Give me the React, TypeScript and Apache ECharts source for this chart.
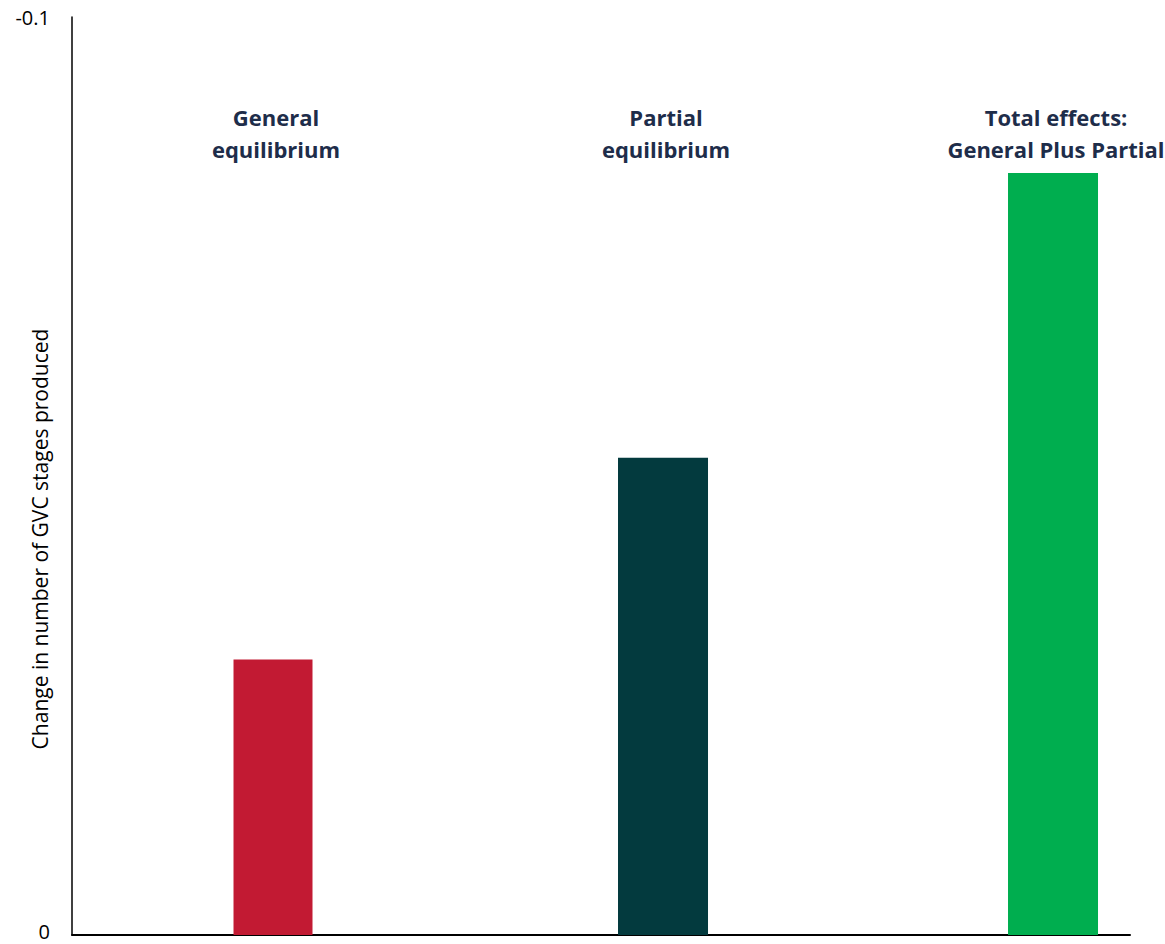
import React, { useEffect, useRef } from "react";
import * as echarts from "echarts";

const categories = ["General\nequilibrium", "Partial\nequilibrium", "Total effects:\nGeneral Plus Partial"];
const positions = [1, 2, 3];
const values = [-0.030, -0.052, -0.083];
const barColors = ["#C21A33", "#033A3E", "#00AE4F"];
const barWidths = [79, 90, 90];
const yTicks = [-0.1, 0];
const yAxisTitle = "Change in number of GVC stages produced";

const X_MIN = 0.4846;
const X_MAX = 3.1974;
const FONT = "'Open Sans', 'Noto Sans', sans-serif";

export default function App() {
  const ref = useRef<HTMLDivElement>(null);
  useEffect(() => {
    if (!ref.current) return;
    const chart = echarts.init(ref.current, null, { renderer: "svg" });
    const xAxes = positions.map((_, i) => ({
      type: "value",
      min: X_MIN,
      max: X_MAX,
      show: i === 0,
      position: "bottom",
      axisLine: { show: true, onZero: false, lineStyle: { color: "#000", width: 2 } },
      axisTick: { show: false },
      axisLabel: { show: false },
      splitLine: { show: false },
    }));
    const series = positions.map((p, i) => ({
      type: "bar",
      xAxisIndex: i,
      yAxisIndex: 0,
      barWidth: barWidths[i],
      data: [[p, values[i]]],
      itemStyle: { color: barColors[i] },
    }));
    chart.setOption({
      animation: false,
      grid: { left: 72, right: 35, top: 17, bottom: 9, containLabel: false, outerBoundsMode: "none" },
      xAxis: xAxes,
      yAxis: {
        type: "value",
        inverse: true,
        min: yTicks[0],
        max: yTicks[yTicks.length - 1],
        interval: 0.1,
        axisLine: { show: true, lineStyle: { color: "#000", width: 1.5 } },
        axisTick: { show: false },
        splitLine: { show: false },
        axisLabel: {
          margin: 22,
          fontSize: 20,
          lineHeight: 18,
          color: "#000",
          fontFamily: FONT,
          formatter: (v: number) => (Math.abs(v) < 1e-9 ? "{z|0}" : String(v)),
          rich: {
            z: { fontSize: 20, lineHeight: 18, fontFamily: FONT, color: "#000", padding: [0, 0, 8, 0] },
          },
        },
      },
      series,
    });
    const texts: any[] = categories.map((c, i) => {
      const px = chart.convertToPixel({ xAxisIndex: i }, positions[i]) as number;
      return {
        type: "text",
        x: px + 3,
        y: 133,
        style: {
          text: c,
          align: "center",
          verticalAlign: "middle",
          font: `bold 22px ${FONT}`,
          fill: "#1E2D4A",
          lineHeight: 32,
        },
      };
    });
    texts.push({
      type: "text",
      x: 40,
      y: 539,
      rotation: Math.PI / 2,
      style: {
        text: yAxisTitle,
        align: "center",
        verticalAlign: "middle",
        font: `21px ${FONT}`,
        fill: "#000",
      },
    });
    chart.setOption({ graphic: texts });
    return () => chart.dispose();
  }, []);
  return <div ref={ref} style={{ width: 1165, height: 944, position: "absolute", left: 0, top: 0 }} />;
}
